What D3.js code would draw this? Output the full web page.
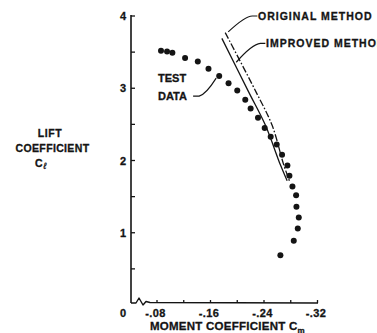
<!DOCTYPE html>
<html>
<head>
<meta charset="utf-8">
<script src="https://cdn.jsdelivr.net/npm/d3@7/dist/d3.min.js"></script>
<style>
  html, body { margin: 0; padding: 0; background: #fff; }
  svg { display: block; }
  text { font-family: "Liberation Sans", Arial, Helvetica, sans-serif; font-weight: bold;
         fill: #141414; stroke: #141414; stroke-width: 0.3px; }
</style>
</head>
<body>
<svg id="chart" width="377" height="333"></svg>
<script>
// Moment coefficient Cm (negative, growing to the right) vs lift coefficient Cl
const testCm = [-0.086, -0.095, -0.103, -0.122, -0.141, -0.157, -0.173, -0.187, -0.200,
                -0.212, -0.220, -0.231, -0.241, -0.250, -0.259, -0.267, -0.275, -0.278,
                -0.2825, -0.288, -0.2885, -0.292, -0.2905, -0.2845, -0.2645];
const testCl = [3.52, 3.51, 3.49, 3.42, 3.37, 3.27, 3.17, 3.07, 2.97,
                2.84, 2.72, 2.59, 2.45, 2.33, 2.22, 2.08, 1.93, 1.79,
                1.64, 1.52, 1.36, 1.21, 1.06, 0.89, 0.69];

const improvedCm = [-0.177, -0.217, -0.242, -0.2645, -0.2746];
const improvedCl = [3.69, 2.95, 2.49, 1.94, 1.72];

const originalCm = [-0.182, -0.228, -0.252, -0.2695, -0.278];
const originalCl = [3.77, 2.95, 2.49, 1.94, 1.72];

const xTickValues = [-0.08, -0.12, -0.16, -0.20, -0.24, -0.28, -0.32];
const xLabelValues = [-0.08, -0.16, -0.24, -0.32];
const xLabelText = ["-.08", "-.16", "-.24", "-.32"];
const yTickValues = [0.5, 1, 1.5, 2, 2.5, 3, 3.5, 4];
const yLabelValues = [1, 2, 3, 4];

const svg = d3.select("#chart");
const ink = "#141414";

// y axis sits left of a broken x axis; the -.08 tick starts after the break
const axisX = 131;
const x = d3.scaleLinear().domain([-0.08, -0.32]).range([157, 317.5]);
const y = d3.scaleLinear().domain([0, 4]).range([305, 16]);
const baseY = y(0) - 2;

// y axis line with inward ticks
svg.append("line")
  .attr("x1", axisX).attr("x2", axisX)
  .attr("y1", y(4) - 1).attr("y2", baseY)
  .attr("stroke", ink).attr("stroke-width", 1.6);
svg.selectAll(".ytick").data(yTickValues).enter().append("line")
  .attr("x1", axisX).attr("x2", axisX + 4)
  .attr("y1", d => y(d)).attr("y2", d => y(d))
  .attr("stroke", ink).attr("stroke-width", 1.3);
svg.selectAll(".ylab").data(yLabelValues).enter().append("text")
  .attr("x", axisX - 5).attr("y", d => y(d) + 4)
  .attr("text-anchor", "end").attr("font-size", 11)
  .text(d => d);

// x axis with its break near the origin
const br = d3.path();
br.moveTo(axisX, baseY);
br.lineTo(axisX + 5, baseY);
br.lineTo(axisX + 8, baseY - 5);
br.lineTo(axisX + 12, baseY + 2);
br.lineTo(axisX + 15, baseY - 1.5);
br.lineTo(axisX + 19, baseY - 0.5);
br.lineTo(x(-0.32) + 0.5, baseY);
svg.append("path").attr("d", br.toString())
  .attr("fill", "none").attr("stroke", ink).attr("stroke-width", 1.4)
  .attr("stroke-linejoin", "round");
svg.selectAll(".xtick").data(xTickValues).enter().append("line")
  .attr("x1", d => x(d)).attr("x2", d => x(d))
  .attr("y1", baseY).attr("y2", baseY - 3)
  .attr("stroke", ink).attr("stroke-width", 1.3);
svg.selectAll(".xlab").data(xLabelValues).enter().append("text")
  .attr("x", (d) => x(d) - 1.5).attr("y", 316.5)
  .attr("text-anchor", "middle").attr("font-size", 11).attr("letter-spacing", 0.4)
  .text((d, i) => xLabelText[i]);
svg.append("text").attr("x", 126).attr("y", 316.5)
  .attr("text-anchor", "end").attr("font-size", 11).text("0");

// axis titles
const yTitle = svg.append("g");
yTitle.append("text").attr("x", 50).attr("y", 137).attr("text-anchor", "middle")
  .attr("font-size", 10.5).attr("letter-spacing", 0.6).text("LIFT");
yTitle.append("text").attr("x", 52.5).attr("y", 151.5).attr("text-anchor", "middle")
  .attr("font-size", 10.5).attr("letter-spacing", 0.35).text("COEFFICIENT");
const cl = yTitle.append("text").attr("x", 35).attr("y", 167.3).attr("font-size", 10.5);
cl.append("tspan").text("C");
cl.append("tspan").attr("dx", 1).attr("dy", 1.5).attr("font-size", 9)
  .attr("font-style", "italic").attr("font-weight", "normal").text("ℓ");

const xt = svg.append("text").attr("x", 150).attr("y", 330)
  .attr("font-size", 11.5).attr("letter-spacing", 0.25);
xt.append("tspan").text("MOMENT COEFFICIENT C");
xt.append("tspan").attr("dy", 2.5).attr("font-size", 8).attr("letter-spacing", 0).text("m");

// prediction curves
const curve = d3.line().x(d => x(d[0])).y(d => y(d[1])).curve(d3.curveCatmullRom);
svg.append("path")
  .attr("d", curve(improvedCm.map((v, i) => [v, improvedCl[i]])))
  .attr("fill", "none").attr("stroke", ink).attr("stroke-width", 1.3);
svg.append("path")
  .attr("d", curve(originalCm.map((v, i) => [v, originalCl[i]])))
  .attr("fill", "none").attr("stroke", ink).attr("stroke-width", 1.3)
  .attr("stroke-dasharray", "7,2,1.6,2");

// test data points
svg.selectAll(".pt").data(testCm).enter().append("circle")
  .attr("cx", d => x(d)).attr("cy", (d, i) => y(testCl[i]))
  .attr("r", 3).attr("fill", ink);

// callouts: leader lines given in chart units
const leader = pts => {
  const p = d3.path();
  p.moveTo(x(pts[0][0]), y(pts[0][1]));
  p.lineTo(x(pts[1][0]), y(pts[1][1]));
  p.quadraticCurveTo(x(pts[2][0]), y(pts[2][1]), x(pts[3][0]), y(pts[3][1]));
  return p.toString();
};
const leaders = [
  [[-0.230, 4.00], [-0.2225, 4.00], [-0.212, 4.00], [-0.1865, 3.78]],
  [[-0.242, 3.62], [-0.2345, 3.62], [-0.2225, 3.61], [-0.1985, 3.36]],
  [[-0.134, 2.89], [-0.143, 2.89], [-0.1535, 2.92], [-0.1685, 3.14]]
];
svg.selectAll(".leader").data(leaders).enter().append("path")
  .attr("d", leader).attr("fill", "none").attr("stroke", ink).attr("stroke-width", 1.2);

svg.append("text").attr("x", 258).attr("y", 19.5)
  .attr("font-size", 10.5).attr("letter-spacing", 1.0).text("ORIGINAL METHOD");
svg.append("text").attr("x", 266).attr("y", 47)
  .attr("font-size", 10.5).attr("letter-spacing", 1.0).text("IMPROVED METHOD");
svg.append("text").attr("x", 158).attr("y", 82).attr("font-size", 11).text("TEST");
svg.append("text").attr("x", 158).attr("y", 99.5).attr("font-size", 11).text("DATA");
</script>
</body>
</html>
